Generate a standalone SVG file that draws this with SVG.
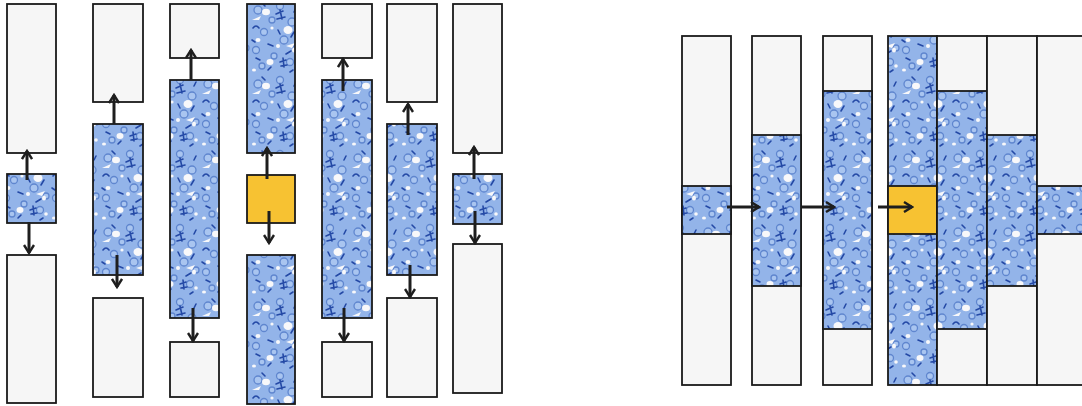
<svg xmlns="http://www.w3.org/2000/svg" width="1082" height="406" viewBox="0 0 1082 406">
<style>
.plain{fill:#f6f6f6;stroke:#1a1a1a;stroke-width:1.8}
.fab{fill:url(#floral);stroke:#1a1a1a;stroke-width:1.8}
.gold{fill:#f7c232;stroke:#1a1a1a;stroke-width:1.8}
.arr{fill:none;stroke:#1e1e1e;stroke-width:3;marker-end:url(#head)}
</style>
<defs>
<marker id="head" viewBox="0 0 12 12" refX="10" refY="6" markerWidth="12" markerHeight="12" markerUnits="userSpaceOnUse" orient="auto">
<path d="M2,1 L10,6 L2,11" fill="none" stroke="#1e1e1e" stroke-width="2.4"/>
</marker>
<pattern id="floral" width="50" height="74" patternUnits="userSpaceOnUse">
<rect width="50" height="74" fill="#93b4e9"/>
<g fill="#a9c5f0" stroke="#5f86cf" stroke-width="1.3">
<circle cx="8" cy="10" r="4"/><circle cx="30" cy="6" r="3.5"/><circle cx="42" cy="22" r="4"/>
<circle cx="14" cy="32" r="3.5"/><circle cx="34" cy="40" r="4"/><circle cx="6" cy="50" r="3.5"/>
<circle cx="24" cy="56" r="3"/><circle cx="22" cy="20" r="3"/><circle cx="40" cy="62" r="3.5"/>
<circle cx="12" cy="66" r="3"/><circle cx="46" cy="48" r="3"/>
</g>
<g fill="none" stroke="#2449a6" stroke-width="1.6" stroke-linecap="round">
<path d="M26,14 l7,-3 M27,19 l8,-2 M30,10 l2,9"/>
<path d="M3,28 q3,-4 6,0 M44,32 l-3,5"/>
<path d="M18,44 l5,2 M36,54 l5,-3 M12,3 l3,3"/>
<path d="M46,8 l-2,4 M2,40 l3,2 M28,30 l2,4"/>
<path d="M30,62 l6,-2 M31,66 l6,-1 M33,58 l1,9"/>
<path d="M18,70 l3,-3 M6,58 l4,2 M40,72 l3,-2"/>
</g>
<g fill="#f8f8fa">
<ellipse cx="16" cy="12" rx="4" ry="3.2"/>
<ellipse cx="38" cy="30" rx="4.5" ry="4"/>
<ellipse cx="8" cy="40" rx="2.5" ry="2"/>
<ellipse cx="28" cy="46" rx="2" ry="2"/>
<path d="M2,20 l9,-4 l-2,4 z"/>
<path d="M36,46 l9,-3 l-3,5 z"/>
<ellipse cx="44" cy="50" rx="2" ry="2.5"/>
<ellipse cx="22" cy="28" rx="1.6" ry="1.6"/>
<ellipse cx="20" cy="62" rx="3.5" ry="3"/>
<ellipse cx="46" cy="66" rx="1.8" ry="1.8"/>
<ellipse cx="4" cy="70" rx="2" ry="1.6"/>
</g>
</pattern>
</defs>

<g id="col1">
<rect class="plain" x="7" y="4" width="49" height="149"/>
<rect class="fab" x="7" y="174" width="49" height="49"/>
<rect class="plain" x="7" y="255" width="49" height="148"/>
</g>
<g id="col2">
<rect class="plain" x="93" y="4" width="50" height="98"/>
<rect class="fab" x="93" y="124" width="50" height="151"/>
<rect class="plain" x="93" y="298" width="50" height="99"/>
</g>
<g id="col3">
<rect class="plain" x="170" y="4" width="49" height="54"/>
<rect class="fab" x="170" y="80" width="49" height="238"/>
<rect class="plain" x="170" y="342" width="49" height="55"/>
</g>
<g id="col4">
<rect class="fab" x="247" y="4" width="48" height="149"/>
<rect class="gold" x="247" y="175" width="48" height="48"/>
<rect class="fab" x="247" y="255" width="48" height="149"/>
</g>
<g id="col5">
<rect class="plain" x="322" y="4" width="50" height="54"/>
<rect class="fab" x="322" y="80" width="50" height="238"/>
<rect class="plain" x="322" y="342" width="50" height="55"/>
</g>
<g id="col6">
<rect class="plain" x="387" y="4" width="50" height="98"/>
<rect class="fab" x="387" y="124" width="50" height="151"/>
<rect class="plain" x="387" y="298" width="50" height="99"/>
</g>
<g id="col7">
<rect class="plain" x="453" y="4" width="49" height="149"/>
<rect class="fab" x="453" y="174" width="49" height="50"/>
<rect class="plain" x="453" y="244" width="49" height="149"/>
</g>

<g id="strip-a">
<rect class="plain" x="682" y="36" width="49" height="349"/>
<rect class="fab" x="682" y="186" width="49" height="48"/>
</g>
<g id="strip-b">
<rect class="plain" x="752" y="36" width="49" height="349"/>
<rect class="fab" x="752" y="135" width="49" height="151"/>
</g>
<g id="strip-c">
<rect class="plain" x="823" y="36" width="49" height="349"/>
<rect class="fab" x="823" y="91" width="49" height="238"/>
</g>
<g id="strip-d">
<rect class="fab" x="888" y="36" width="49" height="349"/>
<rect class="gold" x="888" y="186" width="49" height="48"/>
</g>
<g id="strip-e">
<rect class="plain" x="937" y="36" width="50" height="349"/>
<rect class="fab" x="937" y="91" width="50" height="238"/>
</g>
<g id="strip-f">
<rect class="plain" x="987" y="36" width="50" height="349"/>
<rect class="fab" x="987" y="135" width="50" height="151"/>
</g>
<g id="strip-g">
<rect class="plain" x="1037" y="36" width="60" height="349"/>
<rect class="fab" x="1037" y="186" width="60" height="48"/>
</g>

<g id="connectors">
<line class="arr" x1="27" y1="180" x2="27" y2="151"/>
<line class="arr" x1="29" y1="222" x2="29" y2="253"/>
<line class="arr" x1="114" y1="124" x2="114" y2="95"/>
<line class="arr" x1="117" y1="255" x2="117" y2="287"/>
<line class="arr" x1="191" y1="80" x2="191" y2="50"/>
<line class="arr" x1="193" y1="308" x2="193" y2="341"/>
<line class="arr" x1="267" y1="179" x2="267" y2="148"/>
<line class="arr" x1="269" y1="211" x2="269" y2="243"/>
<line class="arr" x1="343" y1="91" x2="343" y2="59"/>
<line class="arr" x1="344" y1="308" x2="344" y2="341"/>
<line class="arr" x1="408" y1="135" x2="408" y2="104"/>
<line class="arr" x1="410" y1="265" x2="410" y2="297"/>
<line class="arr" x1="474" y1="179" x2="474" y2="147"/>
<line class="arr" x1="475" y1="211" x2="475" y2="243"/>
<line class="arr" x1="727" y1="207" x2="759" y2="207"/>
<line class="arr" x1="802" y1="207" x2="834" y2="207"/>
<line class="arr" x1="878" y1="207" x2="912" y2="207"/>
</g>
</svg>
